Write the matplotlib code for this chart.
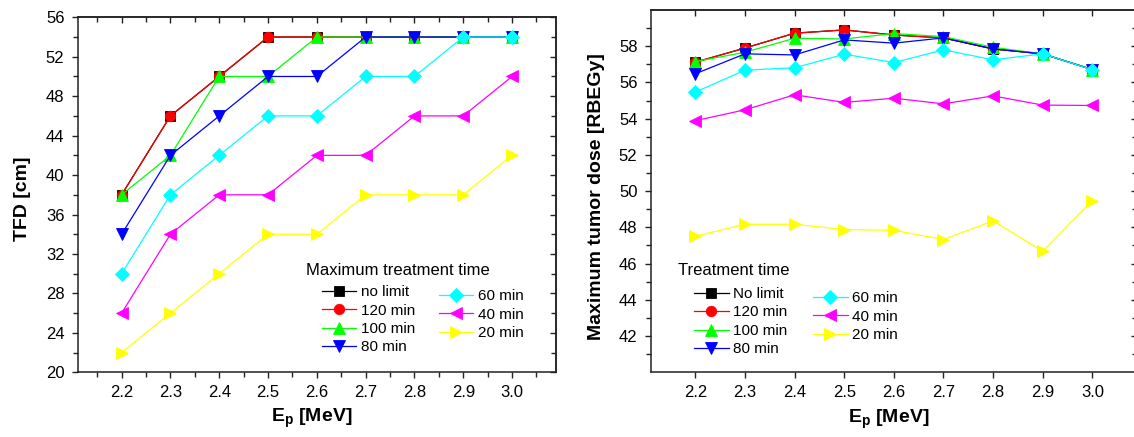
import matplotlib
matplotlib.use("Agg")
import matplotlib.pyplot as plt
from matplotlib.ticker import MultipleLocator, FixedLocator

plt.rcParams['font.family'] = ['Liberation Sans', 'DejaVu Sans']
plt.rcParams['mathtext.fontset'] = 'custom'
plt.rcParams['mathtext.rm'] = 'Liberation Sans'
plt.rcParams['mathtext.bf'] = 'Liberation Sans:bold'

# ---------------- data ----------------
energy = [2.2, 2.3, 2.4, 2.5, 2.6, 2.7, 2.8, 2.9, 3.0]

# Left panel: TFD [cm]
tfd_nolimit = [38, 46, 50, 54, 54, 54, 54, 54, 54]
tfd_120 = [38, 46, 50, 54, 54, 54, 54, 54, 54]
tfd_100 = [38, 42, 50, 50, 54, 54, 54, 54, 54]
tfd_80 = [34, 42, 46, 50, 50, 54, 54, 54, 54]
tfd_60 = [30, 38, 42, 46, 46, 50, 50, 54, 54]
tfd_40 = [26, 34, 38, 38, 42, 42, 46, 46, 50]
tfd_20 = [22, 26, 30, 34, 34, 38, 38, 38, 42]

# Right panel: maximum tumor dose [RBEGy]
dose_nolimit = [57.12, 57.90, 58.72, 58.90, 58.62, 58.46, 57.85, 57.58, 56.71]
dose_120 = [57.12, 57.90, 58.72, 58.90, 58.62, 58.46, 57.85, 57.58, 56.71]
dose_100 = [57.15, 57.67, 58.44, 58.40, 58.70, 58.53, 57.94, 57.58, 56.71]
dose_80 = [56.48, 57.58, 57.52, 58.35, 58.17, 58.46, 57.85, 57.58, 56.71]
dose_60 = [55.47, 56.68, 56.81, 57.56, 57.10, 57.80, 57.25, 57.58, 56.70]
dose_40 = [53.89, 54.49, 55.32, 54.90, 55.13, 54.82, 55.26, 54.75, 54.73]
dose_20 = [47.51, 48.17, 48.17, 47.88, 47.84, 47.33, 48.36, 46.68, 49.48]

left_labels = ['no limit', '120 min', '100 min', '80 min', '60 min', '40 min', '20 min']
right_labels = ['No limit', '120 min', '100 min', '80 min', '60 min', '40 min', '20 min']
colors = ['#000000', '#ff0000', '#00ff00', '#0000ff', '#00ffff', '#ff00ff', '#ffff00']
markers = ['s', 'o', '^', 'v', 'D', '<', '>']
msizes = [7, 7.5, 8, 8, 7, 8, 8]

left_series = [tfd_nolimit, tfd_120, tfd_100, tfd_80, tfd_60, tfd_40, tfd_20]
right_series = [dose_nolimit, dose_120, dose_100, dose_80, dose_60, dose_40, dose_20]

W, H = 1134, 437
fig = plt.figure(figsize=(W / 100, H / 100), dpi=100)


def px_rect(l, t, r, b):
    return [l / W, (H - b) / H, (r - l) / W, (b - t) / H]


axL = fig.add_axes(px_rect(77.7, 17.3, 556, 372.3))
axR = fig.add_axes(px_rect(650.7, 10, 1137, 372.3))


def draw(ax, series, labels):
    handles = []
    for ys, lab, c, m, ms in zip(series, labels, colors, markers, msizes):
        h, = ax.plot(energy, ys, color=c, marker=m, markersize=ms, lw=0.9,
                     markeredgecolor=c, markeredgewidth=0.6, label=lab)
        handles.append(h)
    return handles


hL = draw(axL, left_series, left_labels)
hR = draw(axR, right_series, right_labels)

xticks = energy
for ax in (axL, axR):
    ax.set_xlim(2.11, 3.09)
    ax.set_xticks(xticks)
    ax.set_xticklabels([f'{v:.1f}' for v in xticks])
    for s in ax.spines.values():
        s.set_linewidth(1.1)
        s.set_color('#222222')
    ax.tick_params(axis='both', which='both', direction='out', labelsize=12,
                   width=1.0, color='#222222', pad=4.5)
    ax.tick_params(axis='both', which='major', length=4.5)
    ax.tick_params(axis='both', which='minor', length=3.5)
    ax.tick_params(axis='y', which='major', pad=5)

# left panel axes
axL.set_ylim(20, 56)
axL.yaxis.set_major_locator(MultipleLocator(4))
axL.yaxis.set_minor_locator(MultipleLocator(2))
axL.xaxis.set_minor_locator(FixedLocator([2.15, 2.25, 2.35, 2.45, 2.55, 2.65, 2.75, 2.85, 2.95, 3.05]))
axL.set_ylabel('TFD [cm]', fontsize=14, fontweight='bold')
axL.set_xlabel(r'E$_{\mathbf{p}}$ [MeV]', fontsize=14, fontweight='bold')
axL.yaxis.set_label_coords(-0.097, 0.49)
axL.xaxis.set_label_coords(0.49, -0.097)

# right panel axes
axR.set_ylim(40, 60)
axR.yaxis.set_major_locator(FixedLocator([42, 44, 46, 48, 50, 52, 54, 56, 58]))
axR.yaxis.set_minor_locator(FixedLocator([41, 43, 45, 47, 49, 51, 53, 55, 57, 59]))
axR.set_ylabel('Maximum tumor dose [RBEGy]', fontsize=14, fontweight='bold')
axR.set_xlabel(r'E$_{\mathbf{p}}$ [MeV]', fontsize=14, fontweight='bold')
axR.yaxis.set_label_coords(-0.093, 0.485)
axR.xaxis.set_label_coords(0.49, -0.096)

# mirrored inward ticks on top / right
for ax, xminor in ((axL, True), (axR, False)):
    top = ax.secondary_xaxis('top')
    top.set_xticks(xticks)
    if xminor:
        top.xaxis.set_minor_locator(FixedLocator([2.15, 2.25, 2.35, 2.45, 2.55, 2.65, 2.75, 2.85, 2.95, 3.05]))
    top.tick_params(axis='x', which='both', direction='in', labeltop=False,
                    width=1.0, color='#222222')
    top.tick_params(which='major', length=4.5)
    top.tick_params(which='minor', length=3.5)
    top.spines['top'].set_linewidth(1.1)
    top.spines['top'].set_color('#222222')
    right = ax.secondary_yaxis('right')
    right.yaxis.set_major_locator(ax.yaxis.get_major_locator())
    right.yaxis.set_minor_locator(ax.yaxis.get_minor_locator())
    right.tick_params(axis='y', which='both', direction='in', labelright=False,
                      width=1.0, color='#222222')
    right.tick_params(which='major', length=4.5)
    right.tick_params(which='minor', length=3.5)
    right.spines['right'].set_linewidth(1.1)
    right.spines['right'].set_color('#222222')


def fx(x):
    return x / W


def fy(y):
    return (H - y) / H


def add_legends(ax, handles, col1_x, col1_top, col2_x, col2_top):
    common = dict(frameon=False, fontsize=11, handlelength=2.25, handletextpad=0.3,
                  labelspacing=0.29, borderpad=0, borderaxespad=0, loc='upper left',
                  bbox_transform=fig.transFigure, markerscale=1.0)
    l1 = ax.legend(handles=handles[:4], bbox_to_anchor=(fx(col1_x), fy(col1_top)), **common)
    ax.add_artist(l1)
    ax.legend(handles=handles[4:], bbox_to_anchor=(fx(col2_x), fy(col2_top)), **common)


add_legends(axL, hL, 322, 285.2, 439, 289.2)
add_legends(axR, hR, 694.3, 287, 813.3, 291.3)

fig.text(fx(306), fy(270.7), 'Maximum treatment time', fontsize=12, ha='left', va='center')
fig.text(fx(678), fy(270.7), 'Treatment time', fontsize=12, ha='left', va='center')

fig.savefig('out.png', dpi=100)
